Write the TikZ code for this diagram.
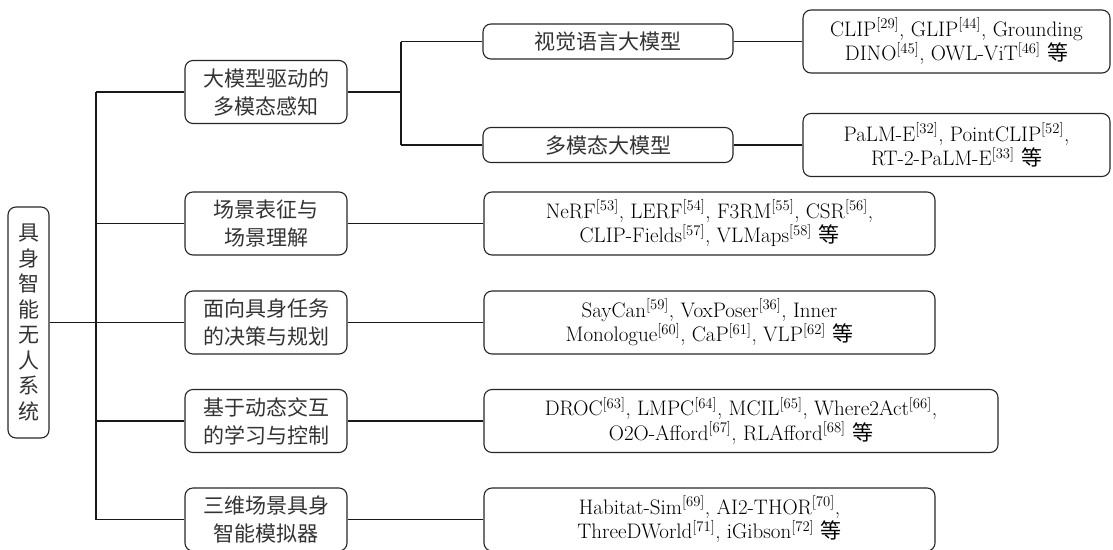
\documentclass[tikz,border=0pt]{standalone}
\usepackage{fontspec}
\newfontfamily\cjk{Noto Sans CJK SC}
\newcommand\rfn[1]{\textsuperscript{[#1]}}
\newcommand\deng{{\cjk 等}}
\begin{document}
\begin{tikzpicture}[x=1pt,y=-1pt,
  box/.style={draw=black!85, line width=1.1pt, rounded corners=8pt, align=center, inner sep=0pt},
  rootbox/.style={box, minimum width=41pt, minimum height=231pt, font=\cjk\fontsize{21}{25.5}\selectfont},
  catbox/.style={box, minimum width=162pt, minimum height=63pt, font=\cjk\fontsize{21}{28}\selectfont},
  subbox/.style={box, minimum width=250pt, minimum height=35pt, font=\cjk\fontsize{21}{28}\selectfont},
  leafbox/.style={box, minimum height=63pt, font=\fontsize{21}{24.5}\selectfont},
  conn/.style={draw=black!90, line width=1.1pt}]
\useasboundingbox (0,0) rectangle (1113,549);
% root
\node[rootbox, text=black!80] (root) at (28.5,322.5) {具\\身\\智\\能\\无\\人\\系\\统};
% categories
\node[catbox, text=black!80] (c1) at (266,92) {大模型驱动的\\多模态感知};
\node[catbox, text=black!80] (c2) at (266,223.5) {场景表征与\\场景理解};
\node[catbox, text=black!80] (c3) at (266,322.5) {面向具身任务\\的决策与规划};
\node[catbox, text=black!80] (c4) at (266,421) {基于动态交互\\的学习与控制};
\node[catbox, text=black!80] (c5) at (266,519.5) {三维场景具身\\智能模拟器};
% sub categories
\node[subbox, text=black!80] (s1) at (608,41.5) {视觉语言大模型};
\node[subbox, text=black!80] (s2) at (608,145) {多模态大模型};
% leaves
\node[leafbox, minimum width=307pt] (l1) at (956.5,41.5) {CLIP\rfn{29}, GLIP\rfn{44}, Grounding\\DINO\rfn{45}, OWL-ViT\rfn{46} \deng};
\node[leafbox, minimum width=307pt] (l2) at (956.5,145) {PaLM-E\rfn{32}, PointCLIP\rfn{52},\\RT-2-PaLM-E\rfn{33} \deng};
\node[leafbox, minimum width=451pt] (l3) at (709.5,223.5) {NeRF\rfn{53}, LERF\rfn{54}, F3RM\rfn{55}, CSR\rfn{56},\\CLIP-Fields\rfn{57}, VLMaps\rfn{58} \deng};
\node[leafbox, minimum width=451pt] (l4) at (709.5,322.5) {SayCan\rfn{59}, VoxPoser\rfn{36}, Inner\\Monologue\rfn{60}, CaP\rfn{61}, VLP\rfn{62} \deng};
\node[leafbox, minimum width=514pt] (l5) at (741,421) {DROC\rfn{63}, LMPC\rfn{64}, MCIL\rfn{65}, Where2Act\rfn{66},\\O2O-Afford\rfn{67}, RLAfford\rfn{68} \deng};
\node[leafbox, minimum width=451pt] (l6) at (709.5,519.5) {Habitat-Sim\rfn{69}, AI2-THOR\rfn{70},\\ThreeDWorld\rfn{71}, iGibson\rfn{72} \deng};
% trunk
\coordinate (ttop) at (96,92);
\coordinate (tbot) at (96,519.5);
\draw[conn] (ttop) -- (tbot);
\draw[conn, line width=1.8pt] (root.east) -- (root.east -| ttop);
\foreach \c in {c1,c2,c3,c4,c5} {\draw[conn] (\c.west -| ttop) -- (\c.west);}
% sub trunk
\coordinate (stop) at (401,41.5);
\coordinate (sbot) at (401,145);
\draw[conn] (stop) -- (sbot);
\draw[conn] (c1.east) -- (c1.east -| stop);
\draw[conn] (stop) -- (s1.west);
\draw[conn] (sbot) -- (s2.west);
\draw[conn] (s1.east) -- (l1.west);
\draw[conn] (s2.east) -- (l2.west);
\draw[conn] (c2.east) -- (l3.west);
\draw[conn] (c3.east) -- (l4.west);
\draw[conn] (c4.east) -- (l5.west);
\draw[conn] (c5.east) -- (l6.west);
\end{tikzpicture}
\end{document}
